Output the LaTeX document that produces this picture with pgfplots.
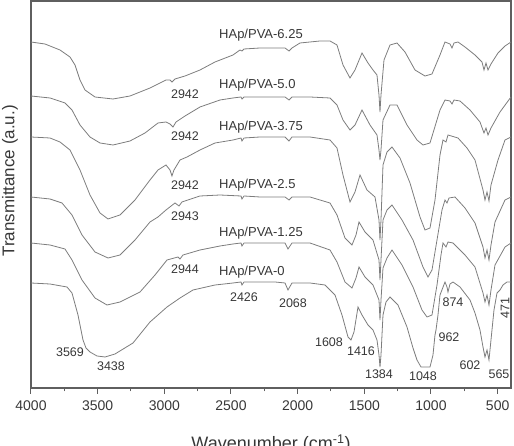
\documentclass[border=0pt]{standalone}
\usepackage{pgfplots}
\pgfplotsset{compat=1.18}
\usepackage{fontspec}
\setmainfont{Liberation Sans}
\definecolor{curvegray}{RGB}{125,125,125}
\definecolor{framegray}{RGB}{95,95,95}
\definecolor{textgray}{RGB}{55,55,55}
\begin{document}
\begin{tikzpicture}
\useasboundingbox (0,0) rectangle (514pt,446pt);
\begin{axis}[
  at={(31pt,58pt)}, anchor=south west,
  scale only axis, width=480pt, height=387pt,
  x dir=reverse, xmin=400, xmax=4000, ymin=0, ymax=387,
  xtick={4000,3500,3000,2500,2000,1500,1000,500},
  minor x tick num=1,
  ytick=\empty,
  tick align=outside,
  major tick length=6pt, minor tick length=3.5pt,
  xtick pos=bottom,
  axis line style={framegray, line width=1.4pt},
  every tick/.style={framegray, line width=1pt},
  /pgf/number format/assume math mode=true,
  /pgf/number format/set thousands separator={},
  xticklabel style={font=\fontsize{14}{16}\selectfont, text=textgray, yshift=-3pt},
  xlabel={Wavenumber (cm\textsuperscript{-1})},
  ylabel={Transmittance (a.u.)},
  xlabel style={font=\fontsize{18}{20}\selectfont, text=textgray, at={(axis description cs:0.5,-0.111)}, anchor=north},
  ylabel style={font=\fontsize{17}{19}\selectfont, text=textgray, at={(axis description cs:-0.044,0.535)}, anchor=center, inner sep=0pt},
  every axis plot post/.style={curvegray, line width=0.8pt, solid, mark=none},
  clip=false,
]
% HAp/PVA-6.25
\addplot coordinates {(4000,346)(3895,344)(3782.5,338)(3707.5,331)(3670,323)(3632.5,308)(3595,298)(3520,291)(3385,289)(3257.5,292)(3107.5,300)(3032.5,305)(2987.5,308)(2957.5,308)(2942.5,306)(2920,309)(2845,312)(2732.5,318)(2620,326)(2485,333)(2432.5,338)(2417.5,337)(2402.5,339)(2282.5,340)(2095,340)(2065,337)(2042.5,340)(1982.5,345)(1832.5,347)(1757.5,347)(1705,343)(1660,323)(1607.5,310)(1570,318)(1517.5,335)(1472.5,325)(1435,318)(1405,313)(1390,293)(1382.5,276)(1375,293)(1352.5,328)(1307.5,343)(1255,345)(1195,336)(1120,318)(1045,312)(992.5,314)(932.5,333)(895,346)(857.5,344)(842.5,340)(827.5,345)(797.5,346)(745,341)(670,333)(617.5,326)(602.5,318)(587.5,325)(572.5,318)(550,324)(497.5,335)(445,342)(400,346)};
% HAp/PVA-5.0
\addplot coordinates {(4000,292)(3857.5,290)(3745,285)(3692.5,278)(3632.5,263)(3557.5,251)(3482.5,245)(3385,243)(3257.5,247)(3145,255)(3047.5,265)(2987.5,266)(2957.5,264)(2935,261)(2912.5,266)(2845,272)(2732.5,281)(2582.5,288)(2485,290)(2425,291)(2417.5,289)(2402.5,291)(2282.5,291)(2095,291)(2065,288)(2042.5,291)(1907.5,291)(1757.5,290)(1705,283)(1660,268)(1607.5,258)(1570,263)(1517.5,278)(1457.5,263)(1405,253)(1390,238)(1382.5,228)(1375,238)(1360,268)(1307.5,283)(1255,283)(1180,263)(1105,248)(1060,243)(1007.5,245)(932.5,278)(895,288)(857.5,287)(842.5,284)(827.5,288)(782.5,287)(707.5,278)(632.5,266)(602.5,255)(587.5,260)(572.5,253)(550,260)(482.5,276)(400,291)};
% HAp/PVA-3.75
\addplot coordinates {(4000,251)(3857.5,250)(3782.5,246)(3707.5,238)(3632.5,218)(3557.5,193)(3482.5,175)(3422.5,169)(3332.5,173)(3220,188)(3107.5,208)(3047.5,218)(2987.5,223)(2957.5,218)(2942.5,212)(2927.5,218)(2882.5,228)(2830,231)(2732.5,238)(2620,245)(2485,248)(2425,250)(2417.5,247)(2402.5,250)(2282.5,251)(2095,251)(2065,247)(2042.5,251)(1907.5,251)(1757.5,248)(1705,240)(1660,213)(1607.5,186)(1570,196)(1532.5,213)(1480,198)(1420,191)(1390,168)(1382.5,148)(1375,168)(1360,223)(1330,236)(1292.5,241)(1232.5,230)(1157.5,205)(1082.5,171)(1045,158)(1007.5,160)(970,188)(932.5,233)(910,248)(887.5,246)(872.5,253)(797.5,250)(730,240)(670,228)(610,198)(595,188)(580,196)(565,187)(550,203)(497.5,228)(445,248)(400,251)};
% HAp/PVA-2.5
\addplot coordinates {(4000,191)(3857.5,189)(3767.5,185)(3692.5,173)(3617.5,153)(3520,136)(3422.5,130)(3332.5,133)(3220,148)(3107.5,166)(3047.5,171)(2987.5,178)(2920,185)(2890,182)(2867.5,186)(2732.5,192)(2582.5,193)(2425,192)(2417.5,189)(2402.5,192)(2282.5,191)(2095,191)(2065,188)(2042.5,191)(1907.5,191)(1757.5,185)(1705,173)(1645,150)(1592.5,143)(1562.5,153)(1540,166)(1495,156)(1435,148)(1390,128)(1382.5,108)(1375,128)(1360,168)(1330,178)(1292.5,183)(1217.5,168)(1135,148)(1060,121)(1022.5,111)(992.5,118)(955,148)(917.5,178)(895,188)(880,185)(865,190)(820,191)(745,180)(670,165)(610,141)(595,130)(580,138)(565,128)(550,143)(520,166)(445,188)(400,191)};
% HAp/PVA-1.25
\addplot coordinates {(4000,145)(3857.5,143)(3745,139)(3692.5,128)(3617.5,108)(3520,90)(3430,83)(3332.5,86)(3182.5,96)(3070,113)(2980,128)(2897.5,131)(2882.5,129)(2860,133)(2732.5,138)(2582.5,142)(2485,144)(2425,145)(2417.5,142)(2402.5,145)(2282.5,145)(2095,145)(2072.5,139)(2042.5,145)(1907.5,145)(1757.5,138)(1705,126)(1645,106)(1592.5,100)(1562.5,110)(1540,121)(1495,111)(1435,103)(1390,88)(1382.5,68)(1375,88)(1360,120)(1330,130)(1292.5,138)(1217.5,123)(1135,101)(1067.5,78)(1030,71)(992.5,73)(955,103)(925,133)(910,145)(887.5,141)(872.5,146)(835,145)(745,133)(670,121)(610,95)(595,86)(580,93)(565,83)(550,98)(520,123)(445,141)(400,145)};
% HAp/PVA-0
\addplot coordinates {(4000,105)(3857.5,104)(3730,101)(3692.5,95)(3647.5,73)(3610,48)(3587.5,40)(3557.5,36)(3505,32)(3445,31)(3370,34)(3235,45)(3107.5,66)(2980,81)(2882.5,90)(2785,98)(2620,103)(2485,105)(2425,106)(2417.5,103)(2402.5,106)(2282.5,106)(2170,106)(2095,105)(2072.5,98)(2042.5,105)(1907.5,105)(1795,103)(1720,93)(1667.5,73)(1622.5,51)(1600,48)(1577.5,56)(1547.5,81)(1517.5,73)(1472.5,63)(1435,58)(1405,48)(1390,33)(1382.5,21)(1375,33)(1360,73)(1337.5,86)(1307.5,91)(1247.5,83)(1180,61)(1135,40)(1105,28)(1075,21)(1007.5,21)(985,33)(970,53)(962.5,58)(947.5,73)(932.5,93)(895,106)(880,101)(872.5,96)(857.5,104)(835,106)(782.5,101)(707.5,88)(670,75)(632.5,58)(610,41)(595,31)(580,38)(565,28)(550,48)(527.5,78)(505,95)(482.5,98)(460,103)(430,106)(400,106)};
% labels
\begin{scope}[every node/.style={text=textgray, font=\fontsize{13}{15}\selectfont, inner sep=0pt}]
\node[anchor=west] at (axis cs:2590,353) {HAp/PVA-6.25};
\node[anchor=west] at (axis cs:2590,303) {HAp/PVA-5.0};
\node[anchor=west] at (axis cs:2590,261) {HAp/PVA-3.75};
\node[anchor=west] at (axis cs:2590,203) {HAp/PVA-2.5};
\node[anchor=west] at (axis cs:2590,155) {HAp/PVA-1.25};
\node[anchor=west] at (axis cs:2590,116) {HAp/PVA-0};
\end{scope}
\begin{scope}[every node/.style={text=textgray, font=\fontsize{12.5}{14}\selectfont, inner sep=0pt}]
\node at (axis cs:2845,294) {2942};
\node at (axis cs:2845,252) {2942};
\node at (axis cs:2845,203) {2942};
\node at (axis cs:2845,172) {2943};
\node at (axis cs:2845,119) {2944};
\node at (axis cs:2402.5,91) {2426};
\node at (axis cs:2035,85) {2068};
\node at (axis cs:3707.5,36) {3569};
\node at (axis cs:3400,22) {3438};
\node at (axis cs:1765,46) {1608};
\node at (axis cs:1525,37) {1416};
\node at (axis cs:1390,14) {1384};
\node at (axis cs:1060,12) {1048};
\node at (axis cs:865,51) {962};
\node at (axis cs:835,86) {874};
\node at (axis cs:707.5,23) {602};
\node at (axis cs:490,14) {565};
\node[rotate=90] at (axis cs:445,80) {471};
\end{scope}
\end{axis}
\end{tikzpicture}
\end{document}
